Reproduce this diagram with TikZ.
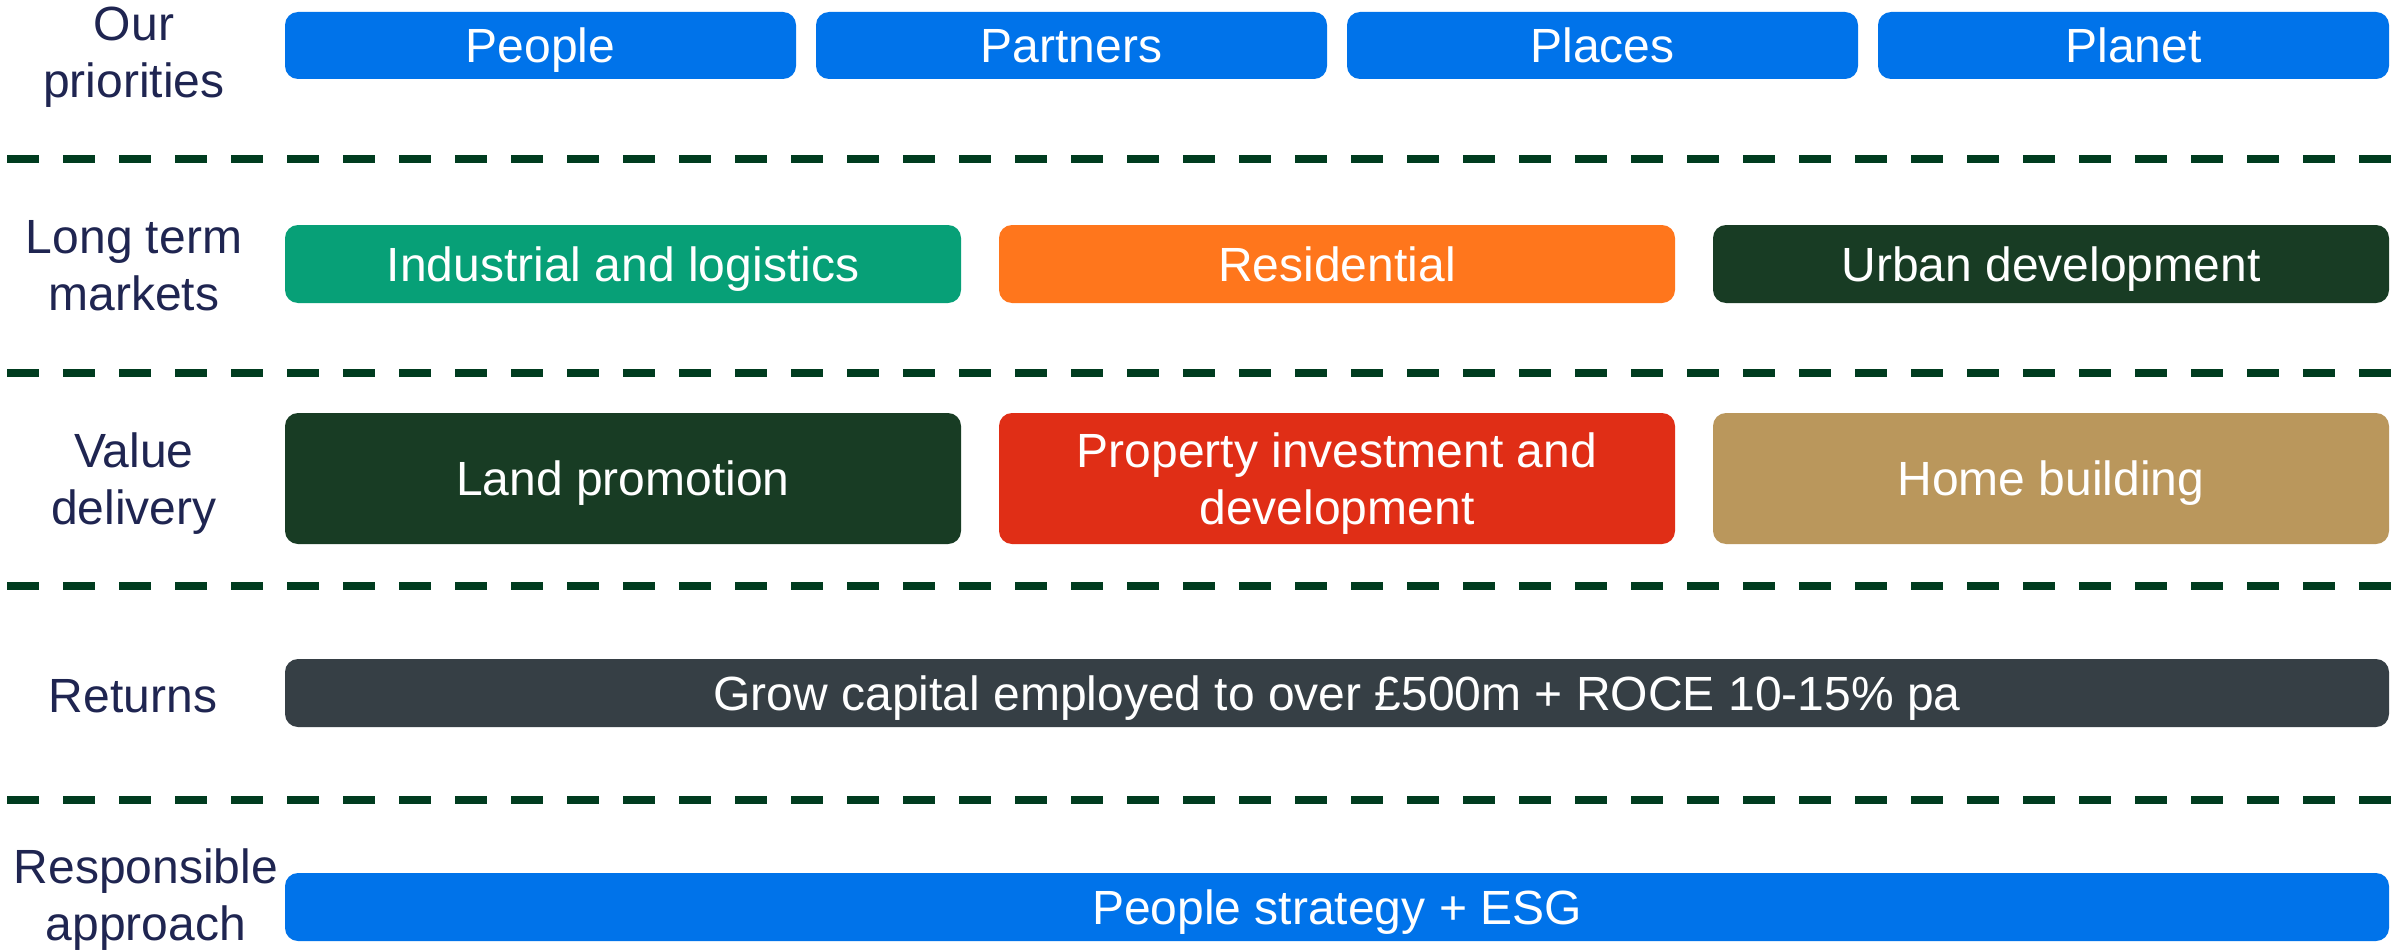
\documentclass[tikz,border=0pt]{standalone}
\usepackage{fontspec}
\setmainfont{Liberation Sans}
\definecolor{navy}{HTML}{1F2551}
\definecolor{cblue}{HTML}{0073EA}
\definecolor{cgreen}{HTML}{07A077}
\definecolor{corange}{HTML}{FF761C}
\definecolor{cdkgreen}{HTML}{183C24}
\definecolor{cred}{HTML}{E02E16}
\definecolor{ctan}{HTML}{BA975C}
\definecolor{cslate}{HTML}{363F45}
\definecolor{cdash}{HTML}{003C1F}
\tikzset{
  box/.style={rounded corners=13pt, inner sep=0pt, text=white,
    font=\fontsize{48}{57}\selectfont, align=center,
    text height=34pt, text depth=0pt},
  lbl/.style={inner sep=0pt, text=navy, font=\fontsize{48}{56.5}\selectfont,
    align=center, anchor=base},
  sepline/.style={draw=cdash, line width=8pt, dash pattern=on 32pt off 24pt}
}
\begin{document}
\begin{tikzpicture}[x=1pt,y=-1pt]
\useasboundingbox (0,0) rectangle (2407,950);
\fill[white] (0,0) rectangle (2407,950);
% dashed separators
\foreach \i/\yy in {1/159,2/373,3/586,4/800}{
  \coordinate (s\i a) at (7,\yy);
  \coordinate (s\i b) at (2391,\yy);
  \draw[sepline] (s\i a) -- (s\i b);
}
% labels (anchor=base is the baseline of the last line)
\node[lbl] (lprio) at (134,97) {Our\\priorities};
\node[lbl] (lmark) at (134,310) {Long term\\markets};
\node[lbl] (lval) at (134,524) {Value\\delivery};
\node[lbl] (lret) at (133,712) {Returns};
\node[lbl] (lresp) at (146,940) {Responsible\\approach};
% row 1
\node[box, fill=cblue, minimum width=511pt, minimum height=67pt] (people) at (540.5,45.5) {People};
\node[box, fill=cblue, minimum width=511pt, minimum height=67pt] (partners) at (1071.5,45.5) {Partners};
\node[box, fill=cblue, minimum width=511pt, minimum height=67pt] (places) at (1602.5,45.5) {Places};
\node[box, fill=cblue, minimum width=511pt, minimum height=67pt] (planet) at (2133.5,45.5) {Planet};
% row 2
\node[box, fill=cgreen, minimum width=676pt, minimum height=78pt] (indus) at (623,264) {Industrial and logistics};
\node[box, fill=corange, minimum width=676pt, minimum height=78pt] (resid) at (1337,264) {Residential};
\node[box, fill=cdkgreen, minimum width=676pt, minimum height=78pt] (urban) at (2051,264) {Urban development};
% row 3
\node[box, fill=cdkgreen, minimum width=676pt, minimum height=131pt] (land) at (623,478.5) {Land promotion};
\node[box, fill=cred, minimum width=676pt, minimum height=131pt, text height=91pt] (prop) at (1337,478.5) {Property investment and\\development};
\node[box, fill=ctan, minimum width=676pt, minimum height=131pt] (home) at (2051,478.5) {Home building};
% row 4
\node[box, fill=cslate, minimum width=2104pt, minimum height=68pt] (returns) at (1337,693) {Grow capital employed to over £500m + ROCE 10-15\% pa};
% row 5
\node[box, fill=cblue, minimum width=2104pt, minimum height=68pt] (esg) at (1337,907) {People strategy + ESG};
\end{tikzpicture}
\end{document}
